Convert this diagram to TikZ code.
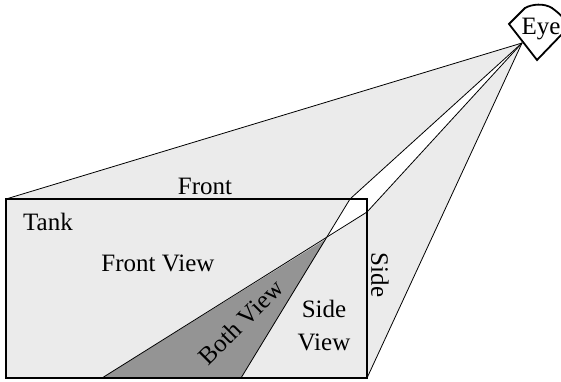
\documentclass[tikz,border=0pt]{standalone}
\usepackage{fontspec}
\setmainfont{Liberation Serif}
\tikzset{
  lab/.style={inner sep=0pt,font=\fontsize{25}{33}\selectfont,align=center,text=black},
  thin line/.style={draw=black,line width=0.8pt},
  tankline/.style={draw=black,line width=2.8pt,line join=miter}
}
\definecolor{lightfill}{gray}{0.92}
\definecolor{darkfill}{gray}{0.58}
\begin{document}
\begin{tikzpicture}[x=1pt,y=-1pt]
\useasboundingbox (0,0) rectangle (561,381);
\coordinate (E) at (522,43);
\coordinate (TL) at (6,199);
\coordinate (TR) at (367,199);
\coordinate (BR) at (367,378);
\coordinate (BL) at (6,378);
\coordinate (P1) at (350,199);
\coordinate (P2) at (367,212);
\coordinate (X) at (326,239);
\coordinate (B1) at (241,378);
\coordinate (B2) at (102,378);
% fills
\fill[lightfill] (E) -- (TL) -- (BL) -- (BR) -- cycle;
\fill[white] (E) -- (P1) -- (X) -- (P2) -- cycle;
\fill[darkfill] (X) -- (B1) -- (B2) -- cycle;
% rays
\draw[thin line] (E) -- (TL);
\draw[thin line] (E) -- (BR);
\draw[thin line] (E) -- (P1) -- (B1);
\draw[thin line] (E) -- (P2) -- (B2);
% tank
\draw[tankline] (TL) rectangle (BR);
% eye
\draw[draw=black,line width=1.8pt,fill=white,line join=miter]
  (509,24) -- (525,8) .. controls (532,4) and (544,3) .. (552,8)
  .. controls (556,11) and (560,14) .. (563,18)
  -- (563,33) -- (537,60) -- cycle;
\node[lab] (eye) at (541,29) {Eye};
% labels
\node[lab] (front) at (205,186) {Front};
\node[lab] (tank) at (48,222) {Tank};
\node[lab] (fv) at (158,263) {Front View};
\node[lab,rotate=45] (bv) at (241,322) {Both View};
\node[lab] (sv) at (324,326) {Side\\View};
\node[lab,rotate=-90] (side) at (380,275) {Side};
\end{tikzpicture}
\end{document}
